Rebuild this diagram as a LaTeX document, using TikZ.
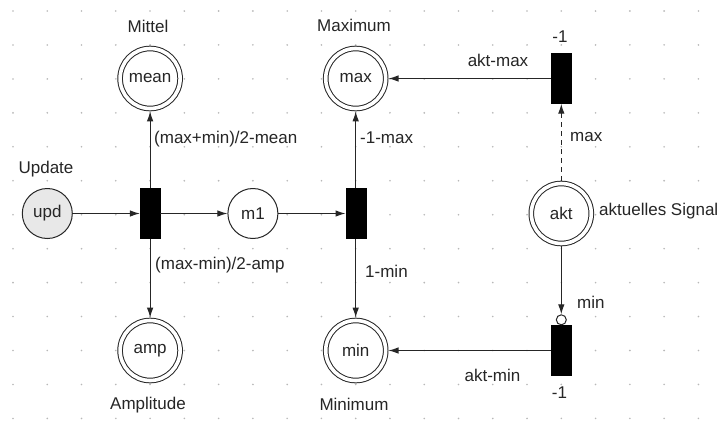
\documentclass[tikz,border=0pt]{standalone}
\usepackage{fontspec}
\setmainfont{Liberation Sans}
\usetikzlibrary{arrows.meta}
\begin{document}
\begin{tikzpicture}[x=1pt,y=-1pt,
  every node/.style={font=\fontsize{17}{20}\selectfont, text=black!85},
  place/.style={circle, draw=black!85, line width=1pt, double=white,
    double distance=3.6pt, fill=white, minimum size=60pt, inner sep=0pt, outer sep=2.8pt},
  token/.style={circle, draw=black!85, line width=1pt, fill=white,
    minimum size=50pt, inner sep=0pt},
  gate/.style={rectangle, fill=black, draw=black, minimum width=20pt,
    minimum height=50pt, inner sep=0pt},
  negin/.style={circle, draw=black!85, line width=1pt, fill=white,
    minimum size=10pt, inner sep=0pt},
  flow/.style={draw=black!85, line width=1.1pt, -{Latex[length=10pt,width=6.5pt]}},
  lbl/.style={inner sep=0pt},
]
% canvas and dotted grid
\fill[white] (0,0) rectangle (728,421);
\useasboundingbox (0,0) rectangle (728,421);
\foreach \c in {0,...,20}{
  \foreach \r in {0,...,12}{
    \fill[black!28] ({13+34.27*\c},{11+33.95*\r}) circle (0.9pt);
  }
}

% places and transitions
\node[token, fill=black!9] (upd) at (47.3,213.5) {upd};
\node[gate] (g1) at (150.1,213.5) {};
\node[token] (m1) at (252.9,213.5) {m1};
\node[gate] (g2) at (355.7,213.5) {};
\node[place] (mean) at (150.1,78.5) {mean};
\node[place] (amp) at (150.1,350.5) {amp};
\node[place] (max) at (355.7,78.5) {max};
\node[place] (min) at (355.7,350.5) {min};
\node[place] (akt) at (561.3,213.5) {akt};
\node[gate] (gmax) at (561.3,78.5) {};
\node[gate] (gmin) at (561.3,350.5) {};
\node[negin, anchor=south] (neg) at (gmin.north) {};

% arcs
\draw[flow] (upd) -- (g1);
\draw[flow] (g1) -- (m1);
\draw[flow] (m1) -- (g2);
\draw[flow] (g1) -- (mean);
\draw[flow] (g1) -- (amp);
\draw[flow] (g2) -- (max);
\draw[flow] (g2) -- (min);
\draw[flow] (gmax) -- (max);
\draw[flow] (gmin) -- (min);
\draw[flow, dash pattern=on 5pt off 4pt] (akt) -- (gmax);
\draw[flow] (akt) -- (neg);

% place names
\node[lbl] (tMittel) at (148,26.7) {Mittel};
\node[lbl] (tMax) at (354,25) {Maximum};
\node[lbl] (tUpd) at (46,169) {Update};
\node[lbl] (tAmp) at (148,405) {Amplitude};
\node[lbl] (tMin) at (354,404) {Minimum};
\node[lbl, anchor=west] (tAkt) at (599,211) {aktuelles Signal};

% arc inscriptions
\node[lbl, anchor=west] (eMean) at (154,139) {(max+min)/2-mean};
\node[lbl, anchor=west] (eAmp) at (155,265) {(max-min)/2-amp};
\node[lbl, anchor=west] (eMax) at (360,137.5) {-1-max};
\node[lbl, anchor=west] (eMin) at (365,271) {1-min};
\node[lbl] (eAktMax) at (498,60) {akt-max};
\node[lbl] (eAktMin) at (492.5,375) {akt-min};
\node[lbl, anchor=west] (eDashMax) at (570,137.5) {max};
\node[lbl, anchor=west] (eNegMin) at (577,302) {min};
\node[lbl] (pTop) at (560,36.7) {-1};
\node[lbl] (pBot) at (559.5,393) {-1};
\end{tikzpicture}
\end{document}
